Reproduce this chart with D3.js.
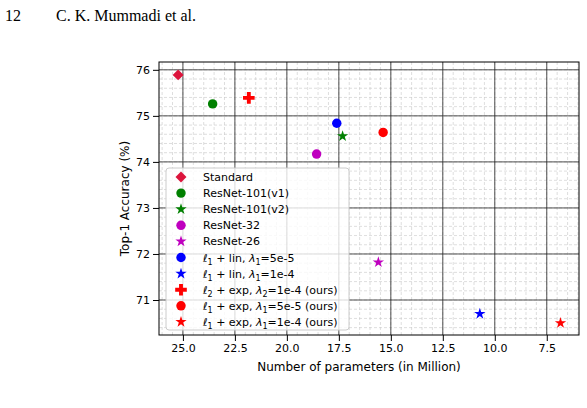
<!DOCTYPE html>
<html><head><meta charset="utf-8">
<script src="https://cdn.jsdelivr.net/npm/d3@7"></script>
<style>
body{margin:0;background:#fff;}
text{font-family:"DejaVu Sans",sans-serif;}
</style></head><body>
<svg id="chart" width="587" height="408"></svg>
<script>
// series data (x = params in million, y = top-1 accuracy)
const labels = ['Standard','ResNet-101(v1)','ResNet-101(v2)','ResNet-32','ResNet-26',
  'l1lin5','l1lin1','l2exp','l1exp5','l1exp1'];
const params = [25.23, 23.57, 17.32, 18.57, 15.6, 17.6, 10.72, 21.83, 15.37, 6.84];
const accuracy = [75.89, 75.26, 74.56, 74.17, 71.82, 74.84, 70.70, 75.39, 74.64, 70.50];
const colors = ['#dc143c','green','green','#bf00bf','#bf00bf','blue','blue','red','red','red'];
const shapes = ['diamond','circle','star','circle','star','circle','star','cross','circle','star'];
const xTicks = [25.0, 22.5, 20.0, 17.5, 15.0, 12.5, 10.0, 7.5];
const yTicks = [71, 72, 73, 74, 75, 76];

const svg = d3.select('#chart');
const m = {l:159, r:579, t:62, b:335};
const x = d3.scaleLinear().domain([26.15, 5.95]).range([m.l, m.r]);
const y = d3.scaleLinear().domain([70.24, 76.17]).range([m.b, m.t]);

// page header
svg.append('text').attr('x', 5).attr('y', 21).style('font-family','"Liberation Serif",serif')
  .style('font-size','16px').text('12');
svg.append('text').attr('x', 56).attr('y', 21).style('font-family','"Liberation Serif",serif')
  .style('font-size','16px').text('C. K. Mummadi et al.');

// minor grid
const g = svg.append('g');
d3.range(26, 5.9, -0.5).forEach(v => g.append('line')
  .attr('x1', x(v)).attr('x2', x(v)).attr('y1', m.t).attr('y2', m.b)
  .attr('stroke', '#c8c8c8').attr('stroke-width', 0.6).attr('stroke-dasharray', '3,2'));
d3.range(70.4, 76.17, 0.2).forEach(v => g.append('line')
  .attr('y1', y(v)).attr('y2', y(v)).attr('x1', m.l).attr('x2', m.r)
  .attr('stroke', '#c8c8c8').attr('stroke-width', 0.6).attr('stroke-dasharray', '3,2'));
// major grid
xTicks.forEach(v => g.append('line').attr('x1', x(v)).attr('x2', x(v)).attr('y1', m.t).attr('y2', m.b)
  .attr('stroke', '#222').attr('stroke-width', 0.8));
yTicks.forEach(v => g.append('line').attr('y1', y(v)).attr('y2', y(v)).attr('x1', m.l).attr('x2', m.r)
  .attr('stroke', '#222').attr('stroke-width', 0.8));

// axes
svg.append('g').attr('transform', `translate(0,${m.b})`)
  .call(d3.axisBottom(x).tickValues(xTicks).tickFormat(d3.format('.1f')).tickSizeOuter(0))
  .call(a => a.select('.domain').remove())
  .selectAll('text').style('font-size','11px').attr('fill','#000');
svg.append('g').attr('transform', `translate(${m.l},0)`)
  .call(d3.axisLeft(y).tickValues(yTicks).tickFormat(d3.format('d')).tickSizeOuter(0))
  .call(a => a.select('.domain').remove())
  .selectAll('text').style('font-size','11px').attr('fill','#000');
svg.append('rect').attr('x', m.l).attr('y', m.t).attr('width', m.r - m.l).attr('height', m.b - m.t)
  .attr('fill','none').attr('stroke','#000').attr('stroke-width', 1);

svg.append('text').attr('x', (m.l + m.r) / 2 - 10).attr('y', 371).attr('text-anchor','middle')
  .style('font-size','12px').text('Number of parameters (in Million)');
svg.append('text').attr('transform', `translate(129,${(m.t + m.b) / 2}) rotate(-90)`)
  .attr('text-anchor','middle').style('font-size','12px').text('Top-1 Accuracy (%)');

const sym = {
  diamond: d3.symbol(d3.symbolSquare, 60),
  circle: d3.symbol(d3.symbolCircle, 70),
  star: d3.symbol(d3.symbolStar, 40),
  cross: d3.symbol(d3.symbolCross, 75)
};
const rot = s => s === 'diamond' ? ' rotate(45)' : '';

// legend
const lg = svg.append('g');
lg.append('rect').attr('x', 166).attr('y', 168).attr('width', 183).attr('height', 162).attr('rx', 3)
  .attr('fill', 'rgba(255,255,255,0.8)').attr('stroke', '#ccc');
const legendHtml = [
  'Standard','ResNet-101(v1)','ResNet-101(v2)','ResNet-32','ResNet-26',
  ['ℓ','1',' + lin, ','λ','1','=5e-5'],
  ['ℓ','1',' + lin, ','λ','1','=1e-4'],
  ['ℓ','2',' + exp, ','λ','2','=1e-4 (ours)'],
  ['ℓ','1',' + exp, ','λ','1','=5e-5 (ours)'],
  ['ℓ','1',' + exp, ','λ','1','=1e-4 (ours)']
];
labels.forEach((l, i) => {
  const yy = 177 + i * 16.1;
  lg.append('path').attr('d', sym[shapes[i]]()).attr('transform', `translate(181,${yy})${rot(shapes[i])}`)
    .attr('fill', colors[i]);
  const t = lg.append('text').attr('x', 203).attr('y', yy + 4).style('font-size','11px');
  const parts = legendHtml[i];
  if (typeof parts === 'string') { t.text(parts); return; }
  t.append('tspan').style('font-style','italic').text(parts[0]);
  t.append('tspan').attr('dy', 3).style('font-size','8px').text(parts[1]);
  t.append('tspan').attr('dy', -3).text(parts[2]);
  t.append('tspan').style('font-style','italic').text(parts[3]);
  t.append('tspan').attr('dy', 3).style('font-size','8px').text(parts[4]);
  t.append('tspan').attr('dy', -3).text(parts[5]);
});

// points
svg.append('g').selectAll('path').data(labels).join('path')
  .attr('d', (d, i) => sym[shapes[i]]())
  .attr('transform', (d, i) => `translate(${x(params[i])},${y(accuracy[i])})${rot(shapes[i])}`)
  .attr('fill', (d, i) => colors[i]);
</script></body></html>
